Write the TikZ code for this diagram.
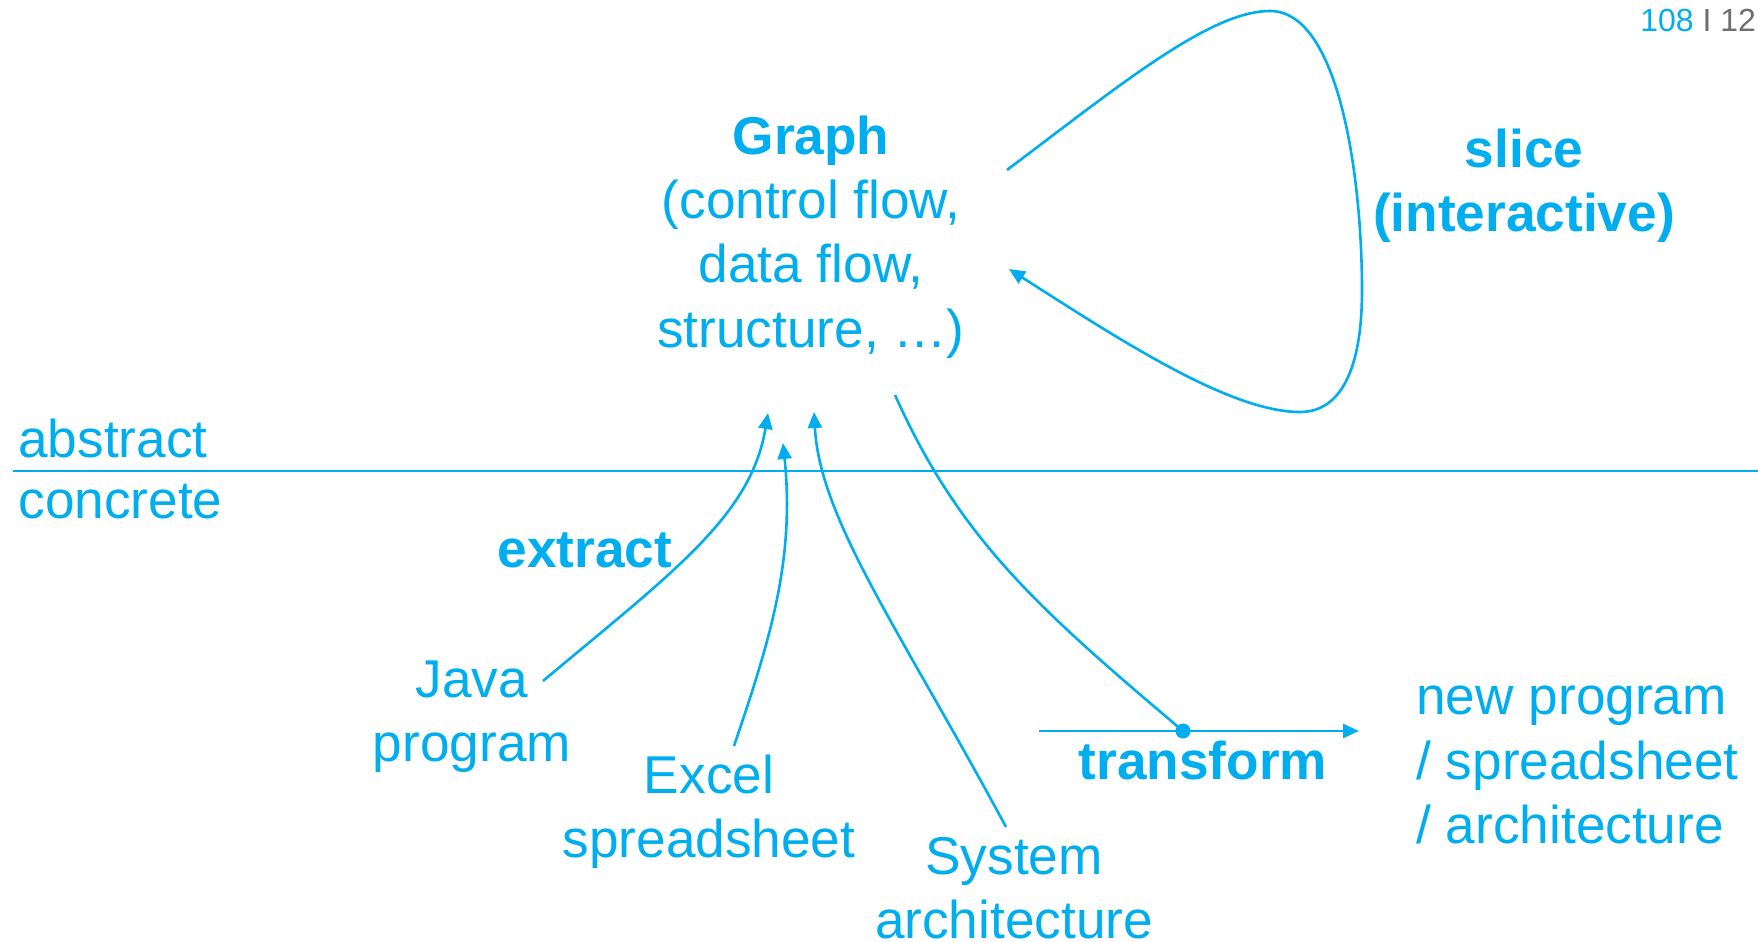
\documentclass[tikz,border=0pt]{standalone}
\usepackage{fontspec}
\setmainfont{Liberation Sans}
\usetikzlibrary{arrows.meta}
\definecolor{cy}{RGB}{0,174,239}
\definecolor{pgray}{RGB}{110,110,110}
\begin{document}
\begin{tikzpicture}[x=0.5pt,y=-0.5pt,
  lbl/.style={text=cy,inner sep=0pt,font=\fontsize{26.6}{32.2}\selectfont,align=center},
  blbl/.style={lbl,font=\fontsize{26.6}{32.2}\selectfont\bfseries},
  conn/.style={draw=cy,line width=1.3pt},
  arr/.style={conn,-{Triangle[length=8pt,width=7pt]}}]
\useasboundingbox (0,0) rectangle (1758,942);
% texts
\node[lbl,anchor=base west,font=\fontsize{16}{19}\selectfont] (pg) at (1640,32) {108 \textcolor{pgray}{I 12}};
\node[lbl] (g) at (811,237) {\textbf{Graph}\\(control flow,\\data flow,\\structure, \dots)};
\node[blbl] (sl) at (1524,186) {slice\\(interactive)};
\node[lbl,anchor=west] (ab) at (18,438) {abstract};
\node[lbl,anchor=west] (co) at (18,502) {concrete};
\node[blbl] (ex) at (585,550) {extract};
\node[lbl] (jv) at (472,717) {Java\\program};
\node[lbl] (xl) at (709,812) {Excel\\spreadsheet};
\node[lbl] (sy) at (1014,888) {System\\architecture};
\node[blbl] (tf) at (1203,760) {transform};
\node[lbl,align=left,anchor=west] (np) at (1416,765) {new program\\/ spreadsheet\\/ architecture};
% separator line
\coordinate (l1) at (13,471);
\coordinate (l2) at (1758,471);
\draw[conn] (l1) -- (l2);
% extract arrows
\coordinate (js) at (543,681);
\coordinate (jt) at (768,413);
\draw[arr] (js) .. controls (673,572) and (751,516) .. (jt);
\coordinate (xs) at (734,746);
\coordinate (xt) at (783,443);
\draw[arr] (xs) .. controls (770,640) and (795,560) .. (xt);
\coordinate (ss) at (1006,827);
\coordinate (st) at (814,412);
\draw[arr] (ss) .. controls (900,630) and (820,520) .. (st);
% transform
\coordinate (ts) at (895,395);
\coordinate (dot) at (1183,731);
\coordinate (ha) at (1039,731);
\coordinate (hb) at (1359,731);
\draw[conn] (ts) .. controls (960,540) and (1040,610) .. (dot);
\draw[arr] (ha) -- (hb);
\fill[cy] (dot) circle (7.5);
% slice loop
\coordinate (ls) at (1007,170);
\coordinate (le) at (1009,269);
\draw[arr] (ls) .. controls (1120,85) and (1210,11) .. (1270,11)
  .. controls (1340,11) and (1362,180) .. (1362,290)
  .. controls (1362,380) and (1335,412) .. (1300,412)
  .. controls (1230,412) and (1120,340) .. (le);
\end{tikzpicture}
\end{document}
